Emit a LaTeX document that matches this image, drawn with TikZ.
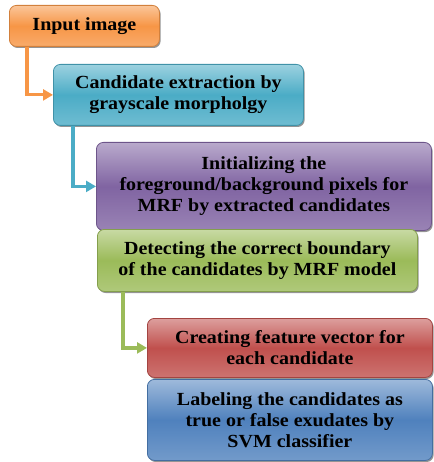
\documentclass[tikz,border=0pt]{standalone}
\usepackage{fontspec}
\setmainfont[FakeStretch=1.08]{Liberation Serif}
\usetikzlibrary{shadows,calc,arrows.meta}

\definecolor{orangeA}{HTML}{F79646}
\definecolor{tealA}{HTML}{4BACC6}
\definecolor{purpleA}{HTML}{8064A2}
\definecolor{greenA}{HTML}{9BBB59}
\definecolor{redA}{HTML}{C0504D}
\definecolor{blueA}{HTML}{4F81BD}

\begin{document}
\begin{tikzpicture}[x=1pt,y=1pt]

\tikzset{
  StepBox/.style = {rectangle, rounded corners=7pt, anchor=north west,
                    align=center, inner sep=2pt, line width=0.8pt,
                    font=\fontsize{18.5}{21}\selectfont\bfseries,
                    drop shadow={shadow xshift=1.2pt, shadow yshift=-1.6pt,
                                 fill=black!70, opacity=.6}},
  Fill/.style = {StepBox, draw=#1!85!black,
                 top color=#1!55, bottom color=#1!80, middle color=#1},
  Link/.style = {line width=3.2pt, -{Triangle[length=10pt,width=11pt]}, #1}
}

\useasboundingbox (0,0) rectangle (433,-462);

\node[Fill=orangeA, minimum width=150pt, minimum height=41pt] (input) at (9,-5) {Input image};
\node[Fill=tealA, minimum width=250pt, minimum height=61pt] (cand) at (53,-64)
  {Candidate extraction by\\grayscale morpholgy};
\node[Fill=purpleA, minimum width=335pt, minimum height=88pt] (init) at (96,-142)
  {Initializing the\\foreground/background pixels for\\MRF by extracted candidates};
\node[Fill=greenA, minimum width=320pt, minimum height=62pt] (mrf) at (97,-229)
  {Detecting the correct boundary\\of the candidates by MRF model};
\node[Fill=redA, minimum width=285pt, minimum height=59pt] (feat) at (147,-318)
  {Creating feature vector for\\each candidate};
\node[Fill=blueA, minimum width=285pt, minimum height=81pt] (svm) at (147,-379)
  {Labeling the candidates as\\true or false exudates by\\SVM classifier};

% elbow links between the stages
\draw[Link=orangeA] ($(input.south west)+(18,0)$) |- (cand.west);
\draw[Link=tealA] ($(cand.south west)+(20,0)$) |- (init.west);
\draw[Link=greenA] ($(mrf.south west)+(26,0)$) |- (feat.west);

\end{tikzpicture}
\end{document}
